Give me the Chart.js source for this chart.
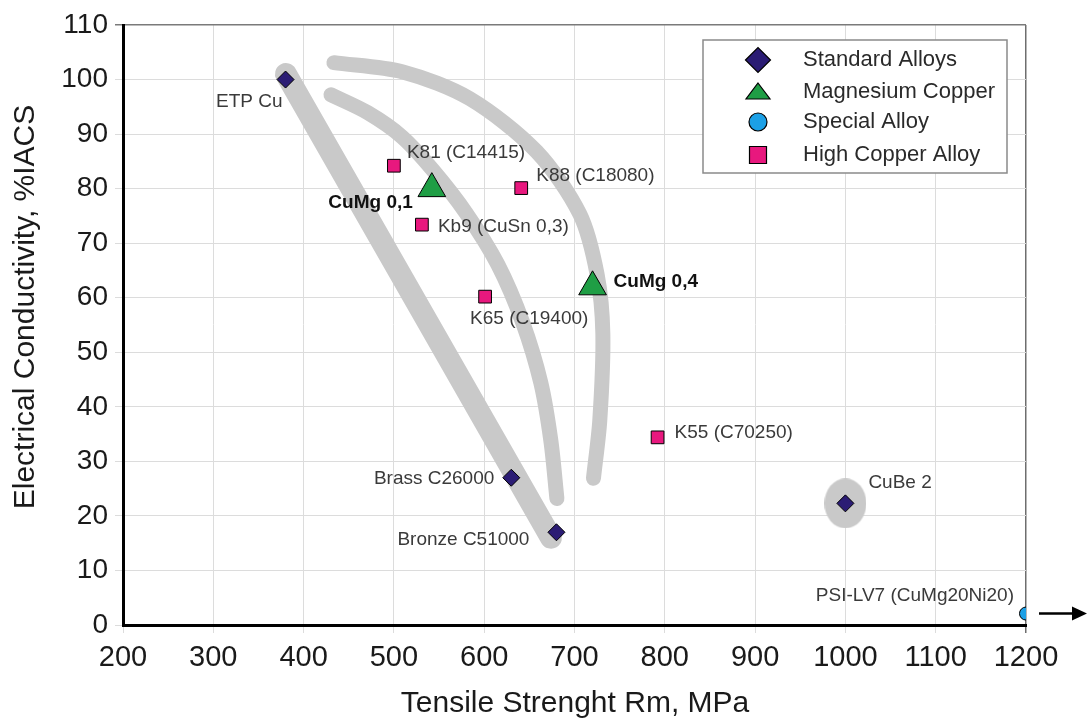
<!DOCTYPE html>
<html>
<head>
<meta charset="utf-8">
<script src="https://cdn.jsdelivr.net/npm/chart.js@4/dist/chart.umd.min.js"></script>
<style>
html,body{margin:0;padding:0;background:#fff;}
canvas{display:block;}
</style>
</head>
<body>
<canvas id="c" width="1090" height="720"></canvas>
<script>
// ---------- data ----------
const xTickValues = [200, 300, 400, 500, 600, 700, 800, 900, 1000, 1100, 1200];
const yTickValues = [0, 10, 20, 30, 40, 50, 60, 70, 80, 90, 100, 110];

const standardNames = ['ETP Cu', 'Brass C26000', 'Bronze C51000', 'CuBe 2'];
const standardX = [380, 630, 680, 1000];
const standardY = [100, 27, 17, 22.3];

const magnesiumNames = ['CuMg 0,1', 'CuMg 0,4'];
const magnesiumX = [542, 720];
const magnesiumY = [80, 62];

const specialNames = ['PSI-LV7 (CuMg20Ni20)'];
const specialX = [1200];
const specialY = [2.1];

const highCuNames = ['K81 (C14415)', 'K88 (C18080)', 'Kb9 (CuSn 0,3)', 'K65 (C19400)', 'K55 (C70250)'];
const highCuX = [500, 641, 531, 601, 792];
const highCuY = [84.2, 80.1, 73.4, 60.2, 34.4];

// grey trend bands (data coordinates)
const bandStraightX = [380.5, 674];
const bandStraightY = [101, 16];
const bandInnerX = [430.3, 471.2, 508.9, 543.2, 579.7, 615.1, 642.8, 662.7, 673.8, 680.5];
const bandInnerY = [97.2, 93.9, 89.5, 83.4, 75.6, 66.1, 55.4, 44.4, 33.8, 23.2];
const bandOuterX = [433.6, 510, 584, 658, 706, 725, 731.4, 728, 721];
const bandOuterY = [103.1, 101.4, 96.5, 86.8, 75.3, 64.3, 53.4, 37.5, 26.9];

// ---------- styles ----------
const FONT = '"Liberation Sans", Arial, Helvetica, sans-serif';
const BAND = '#c9c9c9';
const C_STD = '#2b1c74';
const C_MG = '#1f9e45';
const C_SP = '#1ca0e6';
const C_HC = '#e8187e';

const labelPos = {
  'ETP Cu': [-3, 22, 'right', false],
  'Brass C26000': [-17, 1, 'right', false],
  'Bronze C51000': [-27, 7, 'right', false],
  'CuBe 2': [23, -21, 'left', false],
  'CuMg 0,1': [-19, 14, 'right', true],
  'CuMg 0,4': [21, -5, 'left', true],
  'PSI-LV7 (CuMg20Ni20)': [-12, -18, 'right', false],
  'K81 (C14415)': [13, -13, 'left', false],
  'K88 (C18080)': [15, -12, 'left', false],
  'Kb9 (CuSn 0,3)': [16, 2, 'left', false],
  'K65 (C19400)': [-15, 22, 'left', false],
  'K55 (C70250)': [17, -5, 'left', false]
};

function pts(xs, ys) { return xs.map((x, i) => ({ x: x, y: ys[i] })); }

// halo (ellipse) image for CuBe 2
const halo = document.createElement('canvas');
halo.width = 42; halo.height = 50;
(function () {
  const h = halo.getContext('2d');
  h.fillStyle = BAND;
  h.beginPath();
  h.ellipse(21, 25, 21, 25, 0, 0, Math.PI * 2);
  h.fill();
})();

const bandCommon = {
  showLine: true, borderColor: BAND, backgroundColor: BAND,
  pointRadius: 0, tension: 0.3, borderCapStyle: 'round', borderJoinStyle: 'round', fill: false, order: 20
};

const datasets = [
  { label: 'Standard Alloys', names: standardNames, data: pts(standardX, standardY),
    pointStyle: 'rectRot', pointRadius: 8.5, backgroundColor: C_STD, borderColor: '#000', borderWidth: 1, order: 1 },
  { label: 'Magnesium Copper', names: magnesiumNames, data: pts(magnesiumX, magnesiumY),
    pointStyle: 'triangle', pointRadius: 16, backgroundColor: C_MG, borderColor: '#000', borderWidth: 1, order: 1 },
  { label: 'Special Alloy', names: specialNames, data: pts(specialX, specialY),
    pointStyle: 'circle', pointRadius: 6.5, backgroundColor: C_SP, borderColor: '#000', borderWidth: 1, order: 1 },
  { label: 'High Copper Alloy', names: highCuNames, data: pts(highCuX, highCuY),
    pointStyle: 'rect', pointRadius: 9, backgroundColor: C_HC, borderColor: '#000', borderWidth: 1, order: 1 },
  Object.assign({ label: '_band1', data: pts(bandStraightX, bandStraightY), borderWidth: 22 }, bandCommon),
  Object.assign({ label: '_band2', data: pts(bandInnerX, bandInnerY), borderWidth: 15 }, bandCommon),
  Object.assign({ label: '_band3', data: pts(bandOuterX, bandOuterY), borderWidth: 15 }, bandCommon),
  { label: '_halo', data: [{ x: standardX[3], y: standardY[3] }], pointStyle: halo, pointRadius: 25,
    backgroundColor: BAND, borderWidth: 0, order: 20 }
];

// ---------- plugins ----------
const decorPlugin = {
  id: 'decor',
  afterDatasetsDraw(chart) {
    const ctx = chart.ctx;
    ctx.save();
    // point labels
    chart.data.datasets.forEach((ds, i) => {
      if (!ds.names) return;
      const meta = chart.getDatasetMeta(i);
      meta.data.forEach((el, j) => {
        const name = ds.names[j];
        const p = labelPos[name];
        ctx.font = (p[3] ? 'bold ' : '') + '19px ' + FONT;
        ctx.fillStyle = p[3] ? '#111' : '#3a3a3a';
        ctx.textAlign = p[2];
        ctx.textBaseline = 'middle';
        ctx.fillText(name, el.x + p[0], el.y + p[1]);
      });
    });
    // arrow after the special alloy point
    const sp = chart.getDatasetMeta(2).data[0];
    const ax0 = sp.x + 13, ax1 = sp.x + 61, ay = sp.y;
    ctx.strokeStyle = '#000'; ctx.fillStyle = '#000'; ctx.lineWidth = 2.5;
    ctx.beginPath(); ctx.moveTo(ax0, ay); ctx.lineTo(ax1 - 12, ay); ctx.stroke();
    ctx.beginPath(); ctx.moveTo(ax1, ay); ctx.lineTo(ax1 - 15, ay - 7); ctx.lineTo(ax1 - 15, ay + 7); ctx.closePath(); ctx.fill();
    ctx.restore();
  },
  afterDraw(chart) {
    const ctx = chart.ctx;
    ctx.save();
    // axis titles
    ctx.fillStyle = '#1a1a1a';
    ctx.font = '30px ' + FONT;
    ctx.textAlign = 'center';
    ctx.textBaseline = 'alphabetic';
    ctx.fillText('Tensile Strenght Rm, MPa', 575, 712);
    ctx.save();
    ctx.translate(34, 307);
    ctx.rotate(-Math.PI / 2);
    ctx.fillText('Electrical Conductivity, %IACS', 0, 0);
    ctx.restore();

    // legend
    const bx = 703, by = 40, bw = 304, bh = 133;
    ctx.fillStyle = '#fff';
    ctx.fillRect(bx, by, bw, bh);
    ctx.strokeStyle = '#8a8a8a'; ctx.lineWidth = 1.5;
    ctx.strokeRect(bx, by, bw, bh);
    const rows = [60, 92, 122, 155];
    const mx = 758, tx = 803;
    ctx.font = '22px ' + FONT;
    ctx.textAlign = 'left'; ctx.textBaseline = 'middle';
    chart.data.datasets.slice(0, 4).forEach((ds, i) => {
      const y = rows[i];
      ctx.fillStyle = ds.backgroundColor; ctx.strokeStyle = '#000'; ctx.lineWidth = 1.2;
      ctx.beginPath();
      if (i === 0) { ctx.moveTo(mx - 12.5, y); ctx.lineTo(mx, y - 12.5); ctx.lineTo(mx + 12.5, y); ctx.lineTo(mx, y + 12.5); ctx.closePath(); }
      else if (i === 1) { ctx.moveTo(mx, y - 9); ctx.lineTo(mx + 12, y + 7); ctx.lineTo(mx - 12, y + 7); ctx.closePath(); }
      else if (i === 2) { ctx.arc(mx, y, 9, 0, Math.PI * 2); }
      else { ctx.rect(mx - 8.5, y - 8.5, 17, 17); }
      ctx.fill(); ctx.stroke();
      ctx.fillStyle = '#2a2a2a';
      ctx.fillText(ds.label, tx, y);
    });
    ctx.restore();
  }
};

const xMax = xTickValues[xTickValues.length - 1];
const yMax = yTickValues[yTickValues.length - 1];

new Chart(document.getElementById('c'), {
  type: 'scatter',
  data: { datasets: datasets },
  options: {
    responsive: false,
    devicePixelRatio: 1,
    animation: false,
    events: [],
    layout: { padding: { left: 0, right: 64, top: 23, bottom: 0 } },
    plugins: { legend: { display: false }, tooltip: { enabled: false } },
    scales: {
      x: {
        type: 'linear',
        min: xTickValues[0], max: xMax,
        afterFit(s) { s.height = 95; },
        ticks: { stepSize: xTickValues[1] - xTickValues[0], autoSkip: false, maxRotation: 0,
                 callback: v => String(v),
                 color: '#1a1a1a', font: { family: FONT, size: 29 }, padding: 8 },
        grid: { color: c => c.tick && c.tick.value === xMax ? '#6e6e6e' : '#dcdcdc',
                lineWidth: c => c.tick && c.tick.value === xMax ? 1.5 : 1, tickLength: 8 },
        border: { display: true, color: '#000', width: 3 }
      },
      y: {
        type: 'linear',
        min: yTickValues[0], max: yMax,
        afterFit(s) { s.width = 123; },
        ticks: { stepSize: yTickValues[1] - yTickValues[0], autoSkip: false,
                 callback: v => String(v),
                 color: '#1a1a1a', font: { family: FONT, size: 28 }, padding: 7 },
        grid: { color: c => c.tick && c.tick.value === yMax ? '#7a7a7a' : '#dcdcdc',
                lineWidth: c => c.tick && c.tick.value === yMax ? 1.5 : 1, tickLength: 8 },
        border: { display: true, color: '#000', width: 3 }
      }
    }
  },
  plugins: [decorPlugin]
});
</script>
</body>
</html>
